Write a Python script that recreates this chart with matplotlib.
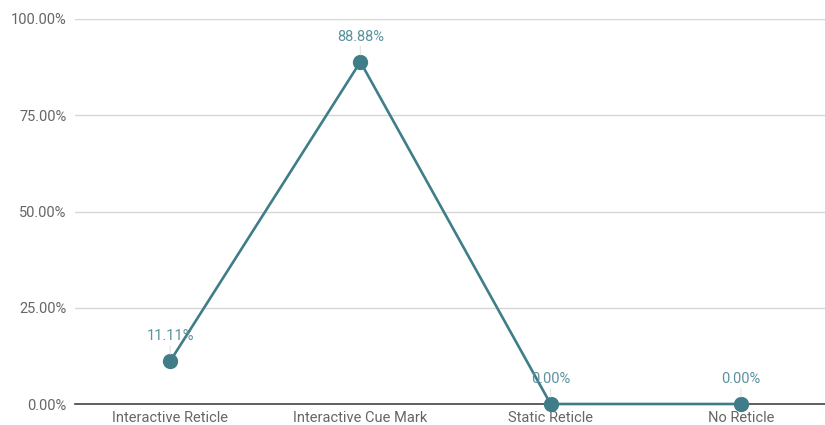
import matplotlib.pyplot as plt
from matplotlib.ticker import FuncFormatter

categories = ['Interactive Reticle', 'Interactive Cue Mark', 'Static Reticle', 'No Reticle']
values = [11.11, 88.88, 0.00, 0.00]
y_ticks = [0, 25, 50, 75, 100]

line_color = '#3f7d89'
label_color = '#5b929e'

plt.rcParams['font.family'] = ['Roboto', 'DejaVu Sans']

fig = plt.figure(figsize=(8.25, 4.25), dpi=100)
# axes right edge runs slightly past the image, as in the reference
ax = fig.add_axes([75 / 825, 21 / 425, 761 / 825, 385 / 425])

x = range(len(categories))
ax.plot(x, values, color=line_color, linewidth=1.9, marker='o', markersize=10,
        clip_on=False, zorder=3)

for xi, v in zip(x, values):
    ax.annotate(f'{v:.2f}%', xy=(xi, v), xytext=(0, 13), textcoords='offset points',
                ha='center', va='bottom', fontsize=10.5, color=label_color,
                arrowprops=dict(arrowstyle='-', color='#e3e3e3', lw=0.8,
                                shrinkA=0, shrinkB=5))

ax.set_xlim(-0.5, 3.5)
ax.set_ylim(0, 100)
ax.set_yticks(y_ticks)
ax.yaxis.set_major_formatter(FuncFormatter(lambda v, p: f'{v:.2f}%'))
ax.set_xticks(list(x))
ax.set_xticklabels(categories)
ax.tick_params(axis='both', length=0, labelsize=10.5, labelcolor='#666666')
ax.tick_params(axis='y', pad=6)
ax.tick_params(axis='x', pad=5)
ax.grid(axis='y', color='#d6d6d6', linewidth=1)
ax.set_axisbelow(True)
for side in ['top', 'right', 'left']:
    ax.spines[side].set_visible(False)
ax.spines['bottom'].set_color('#444444')
ax.spines['bottom'].set_linewidth(1.2)

fig.savefig('out.png', dpi=100)
